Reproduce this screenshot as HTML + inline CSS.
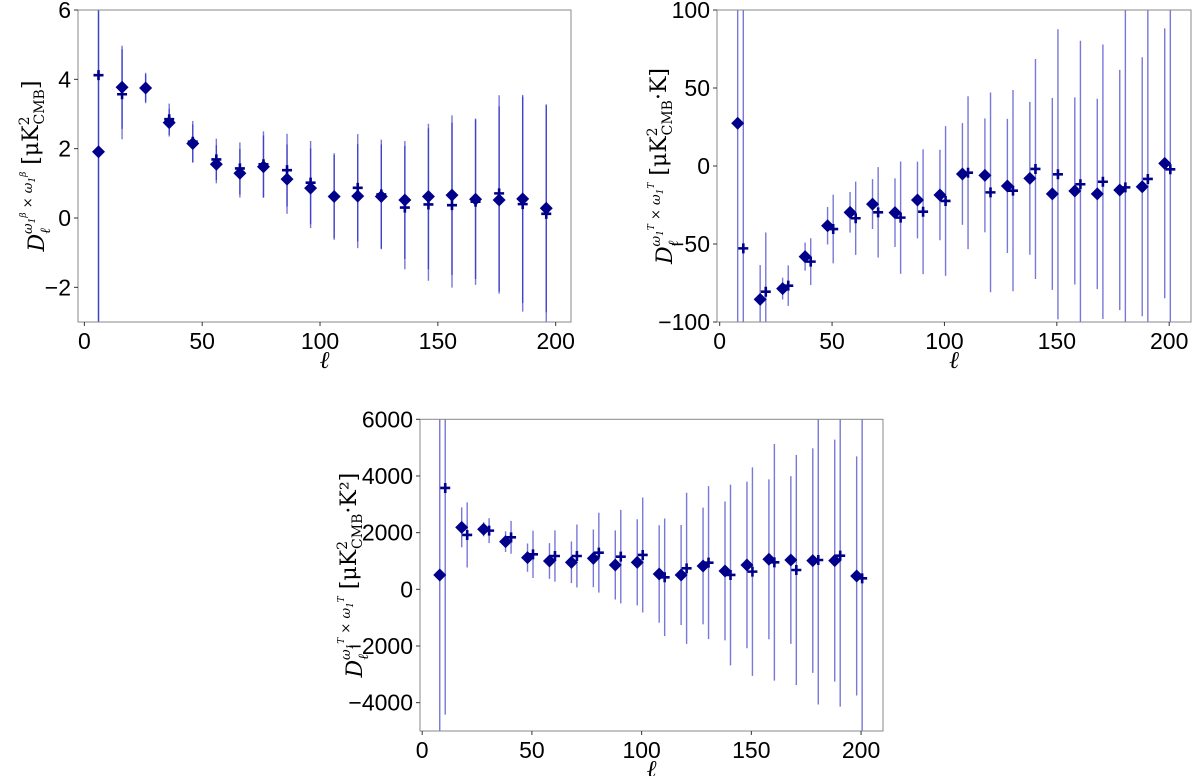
<!DOCTYPE html>
<html><head><meta charset="utf-8">
<style>
html,body{margin:0;padding:0;background:#fff;}
svg{display:block;font-family:"Liberation Sans","DejaVu Sans",sans-serif;}
</style></head>
<body>
<svg id="fig" width="1200" height="776" viewBox="0 0 1200 776" xmlns="http://www.w3.org/2000/svg"></svg>
<script>
// ---- Panel A (top-left) data ----
const aEllD = [6,16,26,36,46,56,66,76,86,96,106,116,126,136,146,156,166,176,186,196];
const aEllP = [6,16,26,36,46,56,66,76,86,96,106,116,126,136,146,156,166,176,186,196];
const aValD = [1.91,3.77,3.75,2.75,2.15,1.55,1.29,1.48,1.12,0.86,0.62,0.63,0.62,0.52,0.62,0.66,0.54,0.52,0.55,0.28];
const aValP = [4.12,3.57,3.75,2.85,2.2,1.69,1.43,1.55,1.38,1.02,0.62,0.87,0.68,0.3,0.39,0.37,0.47,0.71,0.4,0.12];
const aErrD = [10,1.2,0.4,0.4,0.55,0.55,0.7,0.9,1.0,1.15,1.2,1.5,1.5,1.7,2.1,2.3,2.3,2.7,3.0,3.0];
const aErrP = [10,1.3,0.44,0.45,0.6,0.6,0.75,0.95,1.05,1.2,1.25,1.55,1.58,1.78,2.2,2.38,2.4,2.83,3.1,3.13];
const aYTicks = [6,4,2,0,-2];
const aXTicks = [0,50,100,150,200];

// ---- Panel B (top-right) data ----
const bEllD = [8,18,28,38,48,58,68,78,88,98,108,118,128,138,148,158,168,178,188,198];
const bEllP = [10.5,20.5,30.5,40.5,50.5,60.5,70.5,80.5,90.5,100.5,110.5,120.5,130.5,140.5,150.5,160.5,170.5,180.5,190.5,200.5];
const bValD = [27.4,-85.5,-78.6,-58.1,-38.3,-29.7,-24.4,-29.9,-21.8,-18.6,-5.1,-6,-12.8,-7.9,-17.9,-16,-17.9,-15.4,-13.3,1.7];
const bValP = [-52.8,-80.6,-76.7,-61.3,-40.4,-33.5,-29.7,-33.1,-29.3,-22.4,-4.3,-16.9,-15.8,-1.9,-5.3,-11.7,-10.1,-13.7,-8.3,-2.1];
const bErrD = [200,22,7,9,12,13,16,22,24.6,29,32.6,36.5,43,49,61.5,60,61,77,83,86.5];
const bErrP = [200,38,13,15,22,23.5,29,36,40,48,49,64,64.5,70.5,93,92,88,130,130,130];
const bYTicks = [100,50,0,-50,-100];
const bXTicks = [0,50,100,150,200];

// ---- Panel C (bottom) data ----
const cEllD = [8,18,28,38,48,58,68,78,88,98,108,118,128,138,148,158,168,178,188,198];
const cEllP = [10.5,20.5,30.5,40.5,50.5,60.5,70.5,80.5,90.5,100.5,110.5,120.5,130.5,140.5,150.5,160.5,170.5,180.5,190.5,200.5];
const cValD = [506,2188,2118,1682,1118,1000,953,1094,859,953,541,506,824,647,859,1059,1035,1012,1012,471];
const cValP = [3576,1918,2071,1835,1235,1176,1176,1294,1153,1212,424,741,941,506,624,953,682,1035,1188,388];
const cErrD = [8000,705,250,365,500,630,735,1018,1220,1520,1720,1765,2060,2450,2940,2820,2960,3960,4270,4220];
const cErrP = [8000,1150,440,580,835,905,1110,1410,1650,2030,2075,2665,2700,3190,3680,4175,4060,5100,5330,8000];
const cYTicks = [6000,4000,2000,0,-2000,-4000];
const cXTicks = [0,50,100,150,200];

const NS = "http://www.w3.org/2000/svg";
const fig = document.getElementById('fig');
function mk(tag, attrs, parent){
  const e = document.createElementNS(NS, tag);
  for (const k in attrs) e.setAttribute(k, attrs[k]);
  (parent||fig).appendChild(e);
  return e;
}

function drawPanel(p){
  const g = mk('g', {});
  
  
  const sx = v => p.x0 + (v - p.xmin) / (p.xmax - p.xmin) * (p.x1 - p.x0);
  const sy = v => p.y1 - (v - p.ymin) / (p.ymax - p.ymin) * (p.y1 - p.y0);
  const clip = mk('clipPath', {id: p.name + '-clip'}, g);
  mk('rect', {x: p.x0, y: p.y0, width: p.x1 - p.x0, height: p.y1 - p.y0}, clip);
  const plot = mk('g', {'clip-path': 'url(#' + p.name + '-clip)'}, g);
  
  
  const drawErr = (ells, vals, errs, tag) => {
    for (let i = 0; i < ells.length; i++){
      const l = mk('line', {x1: sx(ells[i]), x2: sx(ells[i]), y1: sy(vals[i] + errs[i]), y2: sy(vals[i] - errs[i]),
        stroke: 'rgba(30,30,190,0.6)', 'stroke-width': 1.4}, plot);
      
      
    }
  };
  drawErr(p.ellD, p.valD, p.errD, 'diamond');
  drawErr(p.ellP, p.valP, p.errP, 'plus');
  for (let i = 0; i < p.ellD.length; i++){
    const cx = sx(p.ellD[i]), cy = sy(p.valD[i]), r = 6.5;
    const d = mk('polygon', {points: `${cx},${cy-r} ${cx+r},${cy} ${cx},${cy+r} ${cx-r},${cy}`, fill: '#00008b'}, plot);
    
    
  }
  for (let i = 0; i < p.ellP.length; i++){
    const cx = sx(p.ellP[i]), cy = sy(p.valP[i]), r = 5;
    const pl = mk('path', {d: `M${cx-r},${cy}H${cx+r}M${cx},${cy-r}V${cy+r}`, stroke: '#00008b', 'stroke-width': 2.6, fill: 'none'}, plot);
    
    
  }
  const fr = mk('rect', {x: p.x0, y: p.y0, width: p.x1 - p.x0, height: p.y1 - p.y0, fill: 'none', stroke: '#888', 'stroke-width': 1}, g);
  
  
  for (const t of p.xTicks){
    const x = sx(t);
    mk('line', {x1: x, x2: x, y1: p.y1, y2: p.y1 + 4, stroke: '#333', 'stroke-width': 1}, g);
    const tx = mk('text', {x: x, y: p.y1 + 27, 'text-anchor': 'middle', 'font-size': 23, fill: '#000'}, g);
    tx.textContent = t;
    
    
  }
  for (const t of p.yTicks){
    const y = sy(t);
    mk('line', {x1: p.x0 - 4, x2: p.x0, y1: y, y2: y, stroke: '#333', 'stroke-width': 1}, g);
    const ty = mk('text', {x: p.x0 - 7, y: y + 8, 'text-anchor': 'end', 'font-size': 23, fill: '#000'}, g);
    ty.textContent = (t < 0 ? '\u2212' + (-t) : t);
    
    
  }
  const xl = mk('text', {x: (p.x0 + p.x1) / 2, y: p.y1 + 46, 'text-anchor': 'middle', 'font-size': 24, 'font-style': 'italic', 'font-family': '"DejaVu Serif",serif'}, g);
  xl.textContent = '\u2113';
  
  
  const cy = (p.y0 + p.y1) / 2;
  const yl = mk('text', {transform: `translate(${p.ylx},${cy}) rotate(-90)`, 'text-anchor': 'middle', 'font-size': 22, 'font-family': '"DejaVu Serif","Liberation Serif",serif'}, g);
  
  
  yl.innerHTML = `<tspan font-style="italic">D</tspan><tspan font-size="14" dy="6" font-style="italic">\u2113</tspan><tspan font-size="13" dx="-6" dy="-18" font-style="italic">\u03C9<tspan font-size="9" dy="3">1</tspan><tspan font-size="9" dy="-9">${p.sup}</tspan><tspan dy="6"> \u00D7 \u03C9</tspan><tspan font-size="9" dy="3">1</tspan><tspan font-size="9" dy="-9">${p.sup}</tspan></tspan><tspan dy="12"> [\u03BCK</tspan><tspan font-size="14" dy="-9">2</tspan><tspan font-size="14" dx="-8" dy="15">CMB</tspan><tspan dy="-6">${p.unit}]</tspan>`;
}

drawPanel({name: 'panel-beta-beta', x0: 78, x1: 571, y0: 10, y1: 322, xmin: -2.7, xmax: 206.5, ymin: -3, ymax: 6,
  ellD: aEllD, ellP: aEllP, valD: aValD, valP: aValP, errD: aErrD, errP: aErrP, xTicks: aXTicks, yTicks: aYTicks,
  ylx: 44, sup: '\u03B2', unit: ''});
drawPanel({name: 'panel-beta-T', x0: 717, x1: 1191, y0: 10, y1: 322, xmin: -1.2, xmax: 209.7, ymin: -100, ymax: 100,
  ellD: bEllD, ellP: bEllP, valD: bValD, valP: bValP, errD: bErrD, errP: bErrP, xTicks: bXTicks, yTicks: bYTicks,
  ylx: 672, sup: 'T', unit: '\u00B7K'});
drawPanel({name: 'panel-T-T', x0: 420, x1: 883, y0: 419.3, y1: 731, xmin: -1.0, xmax: 210.0, ymin: -5000, ymax: 6000,
  ellD: cEllD, ellP: cEllP, valD: cValD, valP: cValP, errD: cErrD, errP: cErrP, xTicks: cXTicks, yTicks: cYTicks,
  ylx: 362, sup: 'T', unit: '\u00B7K\u00B2'});
</script>
</body></html>
